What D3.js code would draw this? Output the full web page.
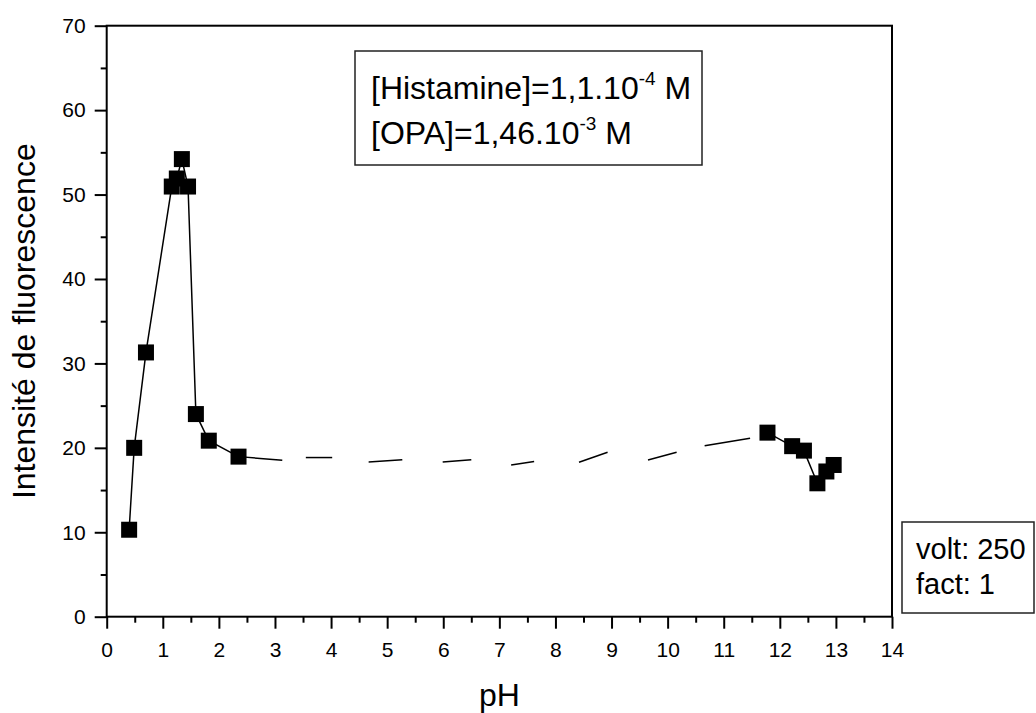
<!DOCTYPE html>
<html>
<head>
<meta charset="utf-8">
<script src="https://cdn.jsdelivr.net/npm/d3@7"></script>
<style>
  body { margin: 0; background: #fff; }
  svg { display: block; font-family: "Liberation Sans", Arial, sans-serif; }
</style>
</head>
<body>
<svg id="chart" width="1036" height="713"></svg>
<script>
// ---- data ----
const pH        = [0.40, 0.49, 0.70, 1.16, 1.25, 1.34, 1.45, 1.59, 1.82, 2.35, 11.78, 12.22, 12.43, 12.67, 12.83, 12.96];
const intensity = [10.3, 20.0, 31.3, 50.95, 51.9, 54.2, 50.95, 24.0, 20.85, 18.96, 21.8, 20.2, 19.67, 15.8, 17.2, 17.97];
// the two solid runs of the curve (index ranges into the arrays above)
const solidRuns = [[0, 9], [10, 15]];
// dashed stretch between pH 2.35 and 11.78 (visible dash pieces)
const dashFromPH = [2.35, 3.55, 4.67, 5.99, 7.21, 8.42, 9.65, 10.66];
const dashFromI  = [18.96, 18.85, 18.33, 18.33, 17.97, 18.29, 18.56, 20.26];
const dashToPH   = [3.13, 4.02, 5.27, 6.50, 7.62, 8.93, 10.16, 11.47];
const dashToI    = [18.53, 18.85, 18.60, 18.60, 18.37, 19.48, 19.48, 21.13];

const xMajor = d3.range(0, 15, 1);
const xMinor = d3.range(0.5, 14, 1);
const yMajor = d3.range(0, 71, 10);
const yMinor = d3.range(5, 70, 10);

const xTitle = "pH";
const yTitle = "Intensité de fluorescence";
const note1 = ["[Histamine]=1,1.10", "-4", " M"];
const note2 = ["[OPA]=1,46.10", "-3", " M"];
const info = ["volt: 250", "fact: 1"];

// ---- layout ----
const svg = d3.select("#chart");
const L = 106.7, R = 892, T = 25.7, B = 616.7;
const x = d3.scaleLinear().domain([0, 14]).range([L, R]);
const y = d3.scaleLinear().domain([0, 70]).range([B, T]);

// axes
const gx = svg.append("g").attr("transform", `translate(0,${B})`)
  .call(d3.axisBottom(x).tickValues(xMajor).tickSize(12).tickPadding(13).tickFormat(d3.format("d")));
const gxm = svg.append("g").attr("transform", `translate(0,${B})`)
  .call(d3.axisBottom(x).tickValues(xMinor).tickSize(6).tickFormat(""));
const gy = svg.append("g").attr("transform", `translate(${L},0)`)
  .call(d3.axisLeft(y).tickValues(yMajor).tickSize(12).tickPadding(9).tickFormat(d3.format("d")));
const gym = svg.append("g").attr("transform", `translate(${L},0)`)
  .call(d3.axisLeft(y).tickValues(yMinor).tickSize(6).tickFormat(""));
[gx, gxm, gy, gym].forEach(g => {
  g.select(".domain").remove();
  g.selectAll(".tick line").attr("stroke", "#000").attr("stroke-width", 2);
  g.selectAll(".tick text").attr("font-size", 21).attr("fill", "#000")
    .attr("font-family", '"Liberation Sans", Arial, sans-serif');
});

// frame
svg.append("rect").attr("x", L).attr("y", T).attr("width", R - L).attr("height", B - T)
  .attr("fill", "none").attr("stroke", "#000").attr("stroke-width", 2);

// solid lines
const line = d3.line().x(i => x(pH[i])).y(i => y(intensity[i]));
solidRuns.forEach(([a, b]) => {
  svg.append("path").attr("d", line(d3.range(a, b + 1)))
    .attr("fill", "none").attr("stroke", "#000").attr("stroke-width", 1.5);
});
// dashed stretch
svg.append("g").selectAll("line").data(dashFromPH).join("line")
  .attr("x1", (d, i) => x(dashFromPH[i])).attr("y1", (d, i) => y(dashFromI[i]))
  .attr("x2", (d, i) => x(dashToPH[i])).attr("y2", (d, i) => y(dashToI[i]))
  .attr("stroke", "#000").attr("stroke-width", 1.5);

// markers
const S = 16;
svg.append("g").selectAll("rect").data(pH).join("rect")
  .attr("x", (d, i) => x(d) - S / 2).attr("y", (d, i) => y(intensity[i]) - S / 2)
  .attr("width", S).attr("height", S).attr("fill", "#000");

// axis titles
svg.append("text").attr("x", (L + R) / 2).attr("y", 706).attr("text-anchor", "middle")
  .attr("font-size", 32).text(xTitle);
svg.append("text").attr("transform", `translate(35,${(T + B) / 2}) rotate(-90)`)
  .attr("text-anchor", "middle").attr("font-size", 32).text(yTitle);

// note box
svg.append("rect").attr("x", 355).attr("y", 51).attr("width", 347).attr("height", 114)
  .attr("fill", "#fff").attr("stroke", "#222").attr("stroke-width", 1.5);
function supText(parts, bx, by) {
  const t = svg.append("text").attr("x", bx).attr("y", by).attr("font-size", 32);
  t.append("tspan").text(parts[0]);
  t.append("tspan").attr("font-size", 19).attr("dy", -14).text(parts[1]);
  t.append("tspan").attr("dy", 14).text(parts[2]);
}
supText(note1, 371, 99);
supText(note2, 371, 144);

// info box
svg.append("rect").attr("x", 902).attr("y", 522).attr("width", 132).attr("height", 91)
  .attr("fill", "#fff").attr("stroke", "#222").attr("stroke-width", 1.5);
svg.append("text").attr("x", 916).attr("y", 559).attr("font-size", 29).text(info[0]);
svg.append("text").attr("x", 916).attr("y", 594).attr("font-size", 29).text(info[1]);
</script>
</body>
</html>
